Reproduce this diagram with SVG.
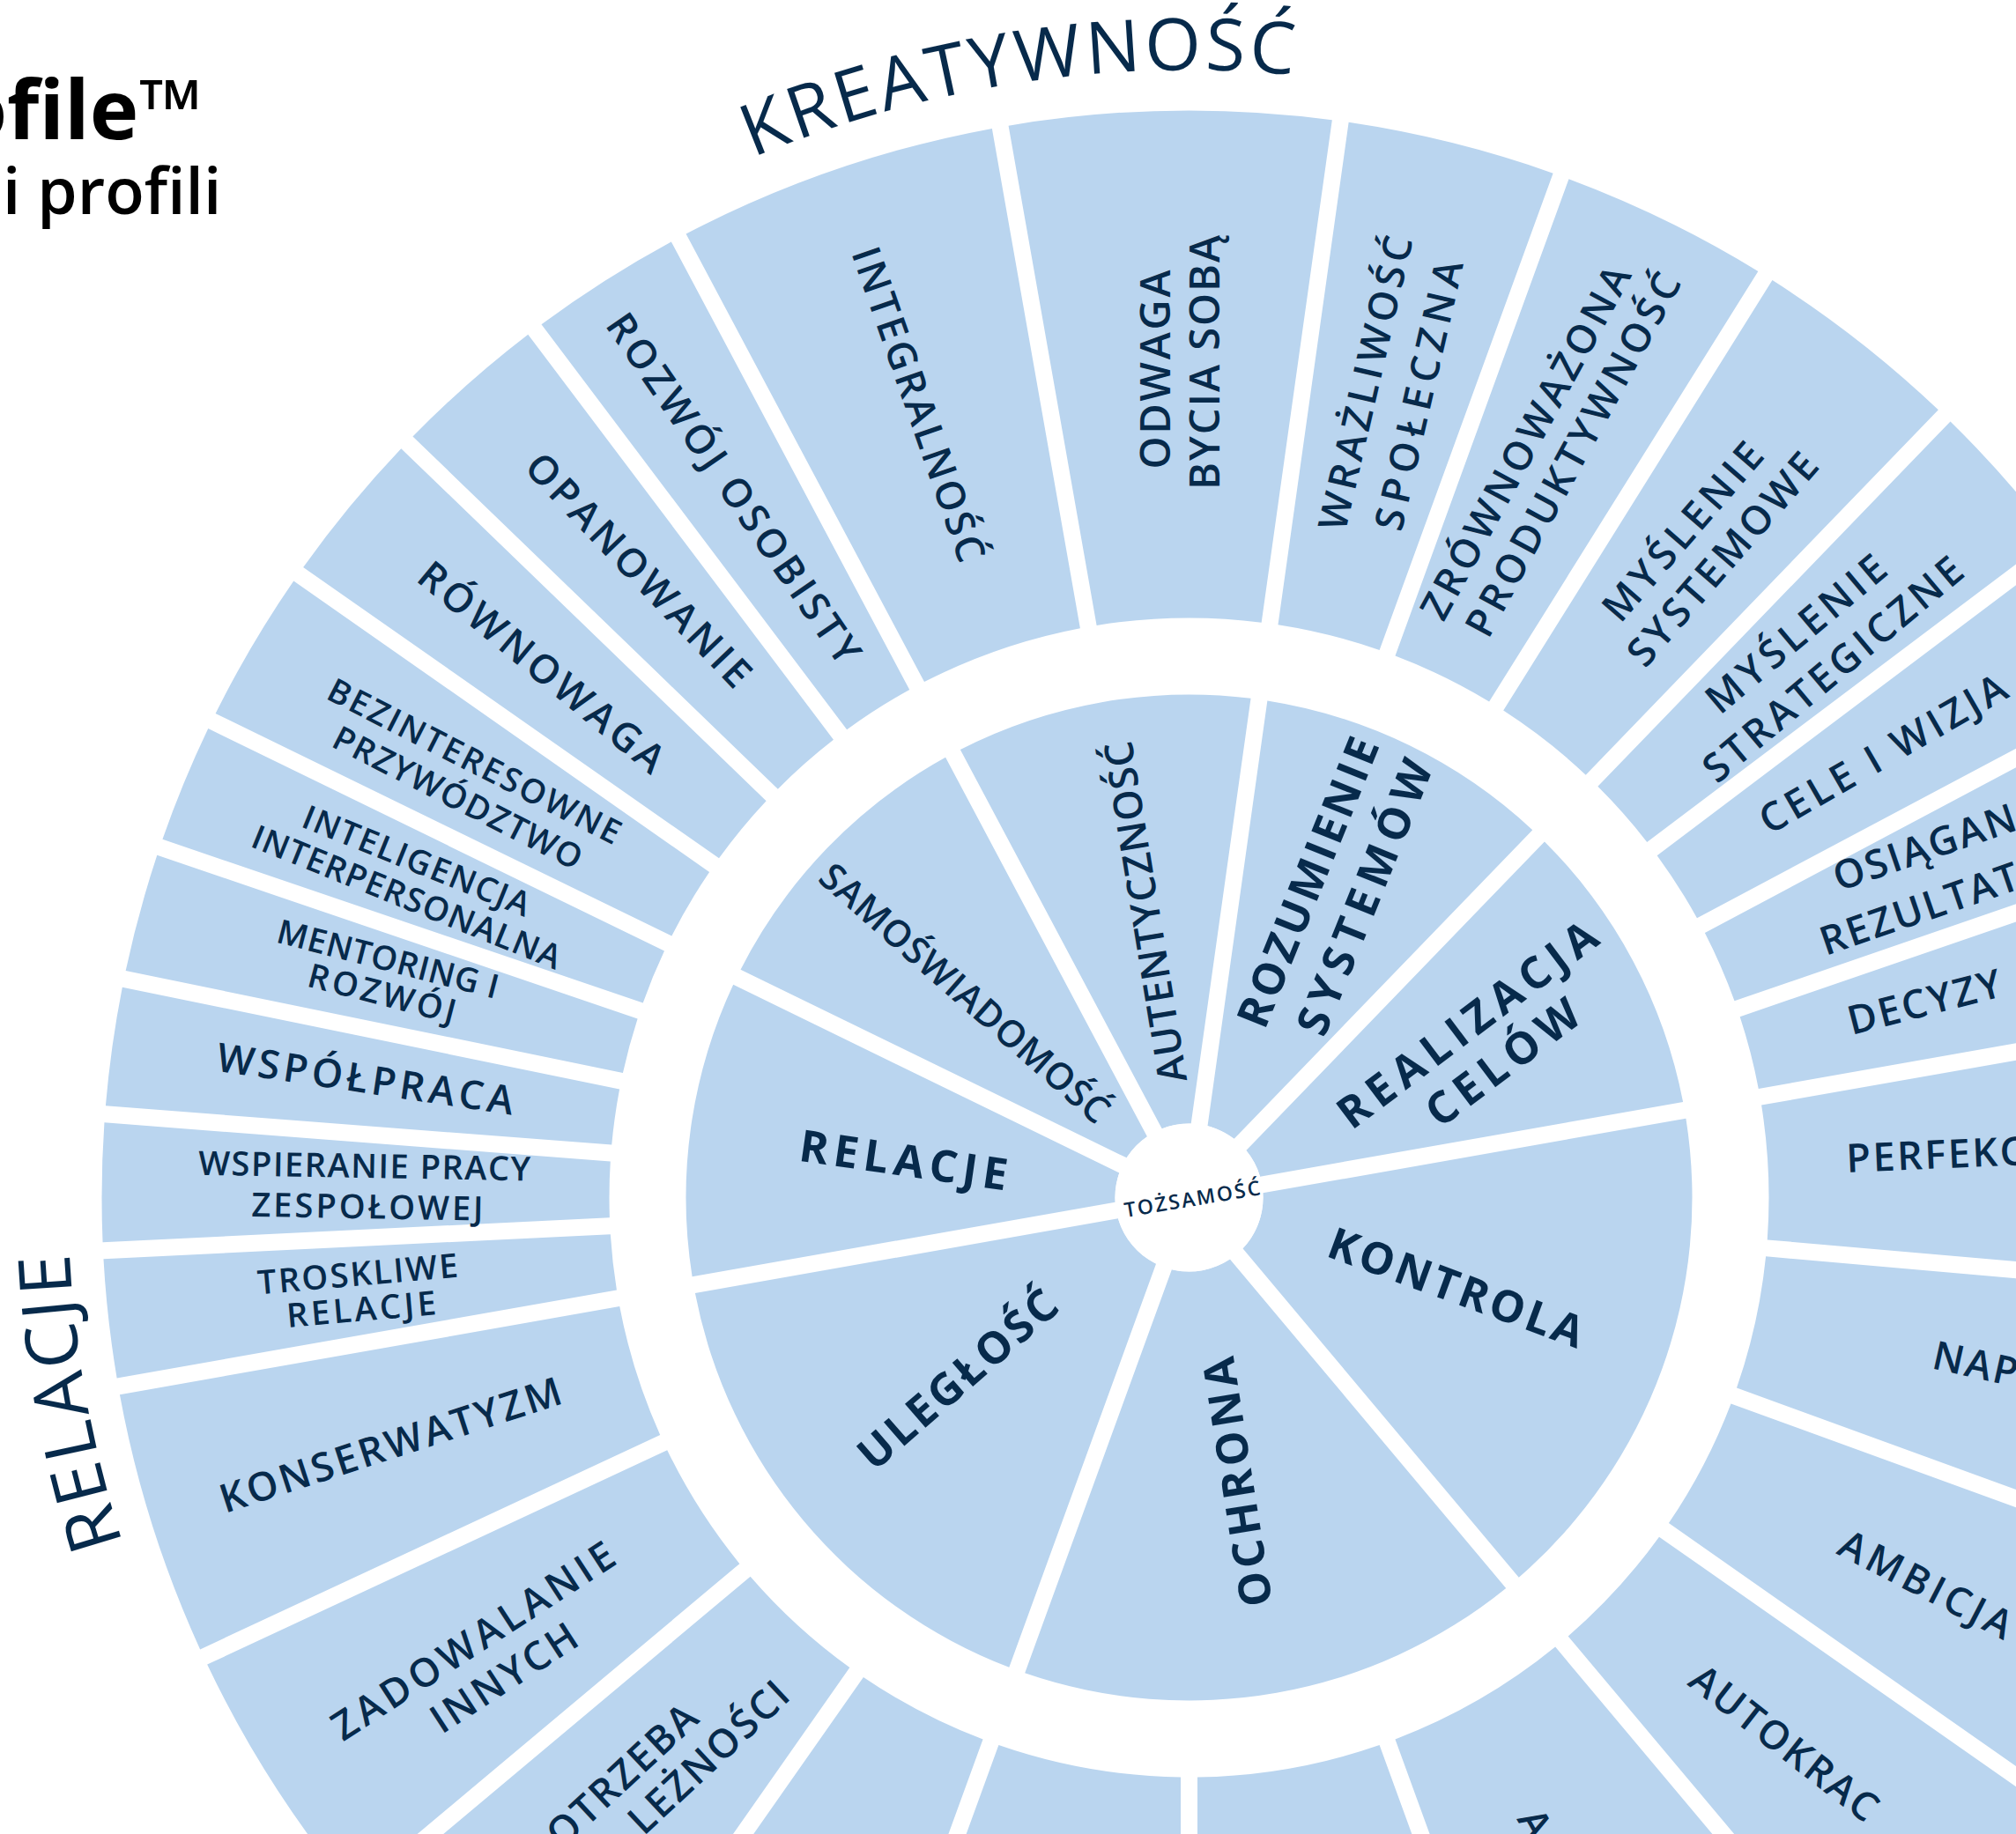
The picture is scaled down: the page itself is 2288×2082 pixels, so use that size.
<svg xmlns="http://www.w3.org/2000/svg" width="2288" height="2082" viewBox="0 0 2288 2082">
<style>
  .seg{fill:#bad5ef}
  .t{font-family:"Open Sans","Noto Sans","DejaVu Sans",sans-serif;font-weight:600;fill:#072a4b;text-anchor:middle}
  .o{font-size:45px}
  .s{font-size:38px}
  .i{font-size:50px;font-weight:700}
  .cut{font-size:45px;letter-spacing:2.5px;text-anchor:start}
  .cute{font-size:45px;letter-spacing:2.5px;text-anchor:end}
  .hd{font-family:"Open Sans","Noto Sans",sans-serif;font-weight:400;font-size:82px;fill:#072a4b;text-anchor:middle}
  .title{font-family:"Open Sans","Noto Sans",sans-serif;fill:#000}
</style>
<defs>
  <!-- outer ring sectors (r 658..1234), gap 19 px, drawn from 0deg clockwise -->
  <path id="o72" class="seg" d="M1233.963 9.5A1234 1234 0 0 1 1225.424 145.231L653.934 73.035A658 658 0 0 0 657.931 9.5Z"/>
  <path id="o9" class="seg" d="M1233.963 9.5A1234 1234 0 0 1 1220.257 183.650L651.317 93.540A658 658 0 0 0 657.931 9.5Z"/>
  <path id="o12" class="seg" d="M1233.963 9.5A1234 1234 0 0 1 1208.975 247.264L645.529 127.500A658 658 0 0 0 657.931 9.5Z"/>
  <path id="o15" class="seg" d="M1233.963 9.5A1234 1234 0 0 1 1194.376 310.197L637.972 161.109A658 658 0 0 0 657.931 9.5Z"/>
  <path id="o18" class="seg" d="M1233.963 9.5A1234 1234 0 0 1 1176.505 372.280L628.666 194.277A658 658 0 0 0 657.931 9.5Z"/>
  <path id="o20" class="seg" d="M1233.963 9.5A1234 1234 0 0 1 1162.796 413.113L621.503 216.099A658 658 0 0 0 657.931 9.5Z"/>
  <!-- inner ring sectors (r 84..571) -->
  <path id="i36" class="seg" d="M570.921 9.5A571 571 0 0 1 467.469 327.893L73.105 41.371A84 84 0 0 0 83.461 9.5Z"/>
  <path id="i60" class="seg" d="M570.921 9.5A571 571 0 0 1 293.688 489.682L49.958 67.529A84 84 0 0 0 83.461 9.5Z"/>
  <!-- heading baselines -->
  <path id="arcTop" d="M88.9 1581.8A1280 1280 0 0 1 1127.2 98.9A1280 1280 0 0 1 2610.1 1137.2" fill="none"/>
  <path id="arcLeft" d="M1570.4 2612.2A1272 1272 0 0 1 96.8 1580.4A1272 1272 0 0 1 1128.6 106.8" fill="none"/>
</defs>
<rect width="2288" height="2082" fill="#fff"/>

<g id="title">
  <text class="title" x="230" y="158" font-size="94" font-weight="700" text-anchor="end">ofile™</text>
  <text class="title" x="3" y="243" font-size="73" font-weight="600">i profili</text>
</g>

<g id="headings">
  <text class="hd" letter-spacing="4"><textPath href="#arcTop" startOffset="2041">KREATYWNOŚĆ</textPath></text>
  <text class="hd" letter-spacing="4.3"><textPath href="#arcLeft" startOffset="1991">RELACJE</textPath></text>
</g>

<g id="outer-ring">
  <g id="troskliwe-relacje">
    <use href="#o72" transform="translate(1349.5 1359.5) rotate(170)"/>
    <text class="t s" transform="translate(406 1446) rotate(-5)" y="13.6" textLength="228" lengthAdjust="spacing">TROSKLIWE</text>
    <text class="t s" transform="translate(410 1486) rotate(-5)" y="13.6" textLength="170" lengthAdjust="spacing">RELACJE</text>
  </g>
  <g id="wspieranie-pracy-zespolowej">
    <use href="#o72" transform="translate(1349.5 1359.5) rotate(177.2)"/>
    <text class="t s" transform="translate(413.6 1323.4) rotate(1)" y="13.6" textLength="377" lengthAdjust="spacing">WSPIERANIE PRACY</text>
    <text class="t s" transform="translate(417 1369.6) rotate(1)" y="13.6" textLength="263" lengthAdjust="spacing">ZESPOŁOWEJ</text>
  </g>
  <g id="wspolpraca">
    <use href="#o72" transform="translate(1349.5 1359.5) rotate(184.4)"/>
    <text class="t o" transform="translate(414.8 1224.6) rotate(8.5)" y="16.1" textLength="340" lengthAdjust="spacing">WSPÓŁPRACA</text>
  </g>
  <g id="mentoring-i-rozwoj">
    <use href="#o72" transform="translate(1349.5 1359.5) rotate(191.6)"/>
    <text class="t s" transform="translate(440.4 1088.4) rotate(14.5)" y="13.6" textLength="258" lengthAdjust="spacing">MENTORING I</text>
    <text class="t s" transform="translate(433.7 1127.5) rotate(14.5)" y="13.6" textLength="172" lengthAdjust="spacing">ROZWÓJ</text>
  </g>
  <g id="inteligencja-interpersonalna">
    <use href="#o72" transform="translate(1349.5 1359.5) rotate(198.8)"/>
    <text class="t s" transform="translate(472.8 976.8) rotate(22)" y="13.6" textLength="275" lengthAdjust="spacing">INTELIGENCJA</text>
    <text class="t s" transform="translate(461.6 1018) rotate(22)" y="13.6" textLength="375" lengthAdjust="spacing">INTERPERSONALNA</text>
  </g>
  <g id="bezinteresowne-przywodztwo">
    <use href="#o9" transform="translate(1349.5 1359.5) rotate(206)"/>
    <text class="t s" transform="translate(538.6 864) rotate(27)" y="13.6" textLength="368" lengthAdjust="spacing">BEZINTERESOWNE</text>
    <text class="t s" transform="translate(519.6 905.4) rotate(27)" y="13.6" textLength="312" lengthAdjust="spacing">PRZYWÓDZTWO</text>
  </g>
  <g id="rownowaga">
    <use href="#o9" transform="translate(1349.5 1359.5) rotate(215)"/>
    <text class="t o" transform="translate(615 757) rotate(39.6)" y="16.1" textLength="348" lengthAdjust="spacing">RÓWNOWAGA</text>
  </g>
  <g id="opanowanie">
    <use href="#o9" transform="translate(1349.5 1359.5) rotate(224)"/>
    <text class="t o" transform="translate(725 647) rotate(46.3)" y="16.1" textLength="348" lengthAdjust="spacing">OPANOWANIE</text>
  </g>
  <g id="rozwoj-osobisty">
    <use href="#o9" transform="translate(1349.5 1359.5) rotate(233)"/>
    <text class="t o" transform="translate(833 554.4) rotate(55.5)" y="16.1" textLength="472" lengthAdjust="spacing">ROZWÓJ OSOBISTY</text>
  </g>
  <g id="integralnosc">
    <use href="#o18" transform="translate(1349.5 1359.5) rotate(242)"/>
    <text class="t o" transform="translate(1042.9 458.8) rotate(70.8)" y="16.1" textLength="375" lengthAdjust="spacing">INTEGRALNOŚĆ</text>
  </g>
  <g id="odwaga-bycia-soba">
    <use href="#o18" transform="translate(1349.5 1359.5) rotate(260)"/>
    <text class="t" font-size="47" transform="translate(1310.7 419.5) rotate(-90)" y="16.8" textLength="226" lengthAdjust="spacing">ODWAGA</text>
    <text class="t" font-size="47" transform="translate(1367.6 411.5) rotate(-90)" y="16.8" textLength="289" lengthAdjust="spacing">BYCIA SOBĄ</text>
  </g>
  <g id="wrazliwosc-spoleczna">
    <use href="#o12" transform="translate(1349.5 1359.5) rotate(278)"/>
    <text class="t o" transform="translate(1549.5 434.7) rotate(-77)" y="16.1" textLength="341" lengthAdjust="spacing">WRAŻLIWOŚĆ</text>
    <text class="t o" transform="translate(1610 448.6) rotate(-77)" y="16.1" textLength="313" lengthAdjust="spacing">SPOŁECZNA</text>
  </g>
  <g id="zrownowazona-produktywnosc">
    <use href="#o12" transform="translate(1349.5 1359.5) rotate(290)"/>
    <text class="t o" transform="translate(1731.2 502) rotate(-61.5)" y="16.1" textLength="449" lengthAdjust="spacing">ZRÓWNOWAŻONA</text>
    <text class="t o" transform="translate(1785 515.8) rotate(-61.5)" y="16.1" textLength="462" lengthAdjust="spacing">PRODUKTYWNOŚĆ</text>
  </g>
  <g id="myslenie-systemowe">
    <use href="#o12" transform="translate(1349.5 1359.5) rotate(302)"/>
    <text class="t o" transform="translate(1909.5 603.1) rotate(-49)" y="16.1" textLength="252" lengthAdjust="spacing">MYŚLENIE</text>
    <text class="t o" transform="translate(1954.7 634.4) rotate(-49)" y="16.1" textLength="304" lengthAdjust="spacing">SYSTEMOWE</text>
  </g>
  <g id="myslenie-strategiczne">
    <use href="#o9" transform="translate(1349.5 1359.5) rotate(314)"/>
    <text class="t o" transform="translate(2038.2 719.2) rotate(-40)" y="16.1" textLength="252" lengthAdjust="spacing">MYŚLENIE</text>
    <text class="t o" transform="translate(2080 759.4) rotate(-40)" y="16.1" textLength="370" lengthAdjust="spacing">STRATEGICZNE</text>
  </g>
  <g id="cele-i-wizja">
    <use href="#o9" transform="translate(1349.5 1359.5) rotate(323)"/>
    <text class="t o" transform="translate(2136.9 855.4) rotate(-30)" y="16.1" textLength="316" lengthAdjust="spacing">CELE I WIZJA</text>
  </g>
  <g id="osiaganie-rezultatow">
    <use href="#o9" transform="translate(1349.5 1359.5) rotate(332)"/>
    <text class="t cut" transform="translate(2087 1012) rotate(-19)">OSIĄGAN</text>
    <text class="t cut" transform="translate(2072 1085) rotate(-19)">REZULTAT</text>
  </g>
  <g id="decyzyjnosc">
    <use href="#o9" transform="translate(1349.5 1359.5) rotate(341)"/>
    <text class="t cut" transform="translate(2101.5 1175) rotate(-14.4)">DECYZY</text>
  </g>
  <g id="perfekcjonizm">
    <use href="#o15" transform="translate(1349.5 1359.5) rotate(350)"/>
    <text class="t cut" transform="translate(2096 1331) rotate(-2.5)">PERFEKC</text>
  </g>
  <g id="naped">
    <use href="#o15" transform="translate(1349.5 1359.5) rotate(5)"/>
    <text class="t cut" transform="translate(2191 1553) rotate(12.5)">NAP</text>
  </g>
  <g id="ambicja">
    <use href="#o15" transform="translate(1349.5 1359.5) rotate(20)"/>
    <text class="t o" transform="translate(2185.9 1798.4) rotate(27.4)" y="16.1" textLength="215" lengthAdjust="spacing">AMBICJA</text>
  </g>
  <g id="autokracja">
    <use href="#o15" transform="translate(1349.5 1359.5) rotate(35)"/>
    <text class="t cut" transform="translate(1914 1912) rotate(38)">AUTOKRAC</text>
  </g>
  <g id="arogancja">
    <use href="#o20" transform="translate(1349.5 1359.5) rotate(50)"/>
    <text class="t cut" transform="translate(1721 2065) rotate(60)">A</text>
  </g>
  <g id="ochrona-2">
    <use href="#o20" transform="translate(1349.5 1359.5) rotate(70)"/>
  </g>
  <g id="ochrona-3">
    <use href="#o20" transform="translate(1349.5 1359.5) rotate(90)"/>
  </g>
  <g id="uleglosc-1">
    <use href="#o15" transform="translate(1349.5 1359.5) rotate(110)"/>
  </g>
  <g id="potrzeba-przynaleznosci">
    <use href="#o15" transform="translate(1349.5 1359.5) rotate(125)"/>
    <text class="t cute" transform="translate(797 1952) rotate(-43)">OTRZEBA</text>
    <text class="t cute" transform="translate(901 1926) rotate(-43)">LEŻNOŚCI</text>
  </g>
  <g id="zadowalanie-innych">
    <use href="#o15" transform="translate(1349.5 1359.5) rotate(140)"/>
    <text class="t o" transform="translate(536.8 1862.5) rotate(-33)" y="16.1" textLength="373" lengthAdjust="spacing">ZADOWALANIE</text>
    <text class="t o" transform="translate(571.8 1904.2) rotate(-33)" y="16.1" textLength="189" lengthAdjust="spacing">INNYCH</text>
  </g>
  <g id="konserwatyzm">
    <use href="#o15" transform="translate(1349.5 1359.5) rotate(155)"/>
    <text class="t o" transform="translate(443 1640) rotate(-18)" y="16.1" textLength="405" lengthAdjust="spacing">KONSERWATYZM</text>
  </g>
</g>

<g id="inner-ring">
  <g id="relacje">
    <use href="#i36" transform="translate(1349.5 1359.5) rotate(170)"/>
    <text class="t i" transform="translate(1025.5 1316.7) rotate(8.2)" y="17.9" textLength="238" lengthAdjust="spacing">RELACJE</text>
  </g>
  <g id="samoswiadomosc">
    <use href="#i36" transform="translate(1349.5 1359.5) rotate(206)"/>
    <text class="t" font-size="42" transform="translate(1095.1 1127.3) rotate(41.3)" y="15" textLength="422" lengthAdjust="spacing">SAMOŚWIADOMOŚĆ</text>
  </g>
  <g id="autentycznosc">
    <use href="#i36" transform="translate(1349.5 1359.5) rotate(242)"/>
    <text class="t" font-size="45" transform="translate(1299.8 1035.5) rotate(-99.3)" y="16.1" textLength="392" lengthAdjust="spacing">AUTENTYCZNOŚĆ</text>
  </g>
  <g id="rozumienie-systemow">
    <use href="#i36" transform="translate(1349.5 1359.5) rotate(278)"/>
    <text class="t i" transform="translate(1484.1 1001.3) rotate(-68)" y="17.9" textLength="350" lengthAdjust="spacing">ROZUMIENIE</text>
    <text class="t i" transform="translate(1548.4 1018.5) rotate(-68)" y="17.9" textLength="332" lengthAdjust="spacing">SYSTEMÓW</text>
  </g>
  <g id="realizacja-celow">
    <use href="#i36" transform="translate(1349.5 1359.5) rotate(314)"/>
    <text class="t i" transform="translate(1665.1 1162.7) rotate(-37)" y="17.9" textLength="355" lengthAdjust="spacing">REALIZACJA</text>
    <text class="t i" transform="translate(1705.3 1205.8) rotate(-37)" y="17.9" textLength="205" lengthAdjust="spacing">CELÓW</text>
  </g>
  <g id="kontrola">
    <use href="#i60" transform="translate(1349.5 1359.5) rotate(350)"/>
    <text class="t i" transform="translate(1652.8 1461.4) rotate(20.2)" y="17.9" textLength="305" lengthAdjust="spacing">KONTROLA</text>
  </g>
  <g id="ochrona">
    <use href="#i60" transform="translate(1349.5 1359.5) rotate(50)"/>
    <text class="t i" transform="translate(1404.2 1682.4) rotate(-99)" y="17.9" textLength="286" lengthAdjust="spacing">OCHRONA</text>
  </g>
  <g id="uleglosc">
    <use href="#i60" transform="translate(1349.5 1359.5) rotate(110)"/>
    <text class="t i" transform="translate(1086.6 1565.6) rotate(-41)" y="17.9" textLength="282" lengthAdjust="spacing">ULEGŁOŚĆ</text>
  </g>
</g>

<g id="tozsamosc">
  <circle cx="1349.5" cy="1359.5" r="84" fill="#fff"/>
  <text class="t" font-size="23" font-weight="700" transform="translate(1353 1361) rotate(-9.5)" y="8.2" textLength="156" lengthAdjust="spacing">TOŻSAMOŚĆ</text>
</g>
</svg>
